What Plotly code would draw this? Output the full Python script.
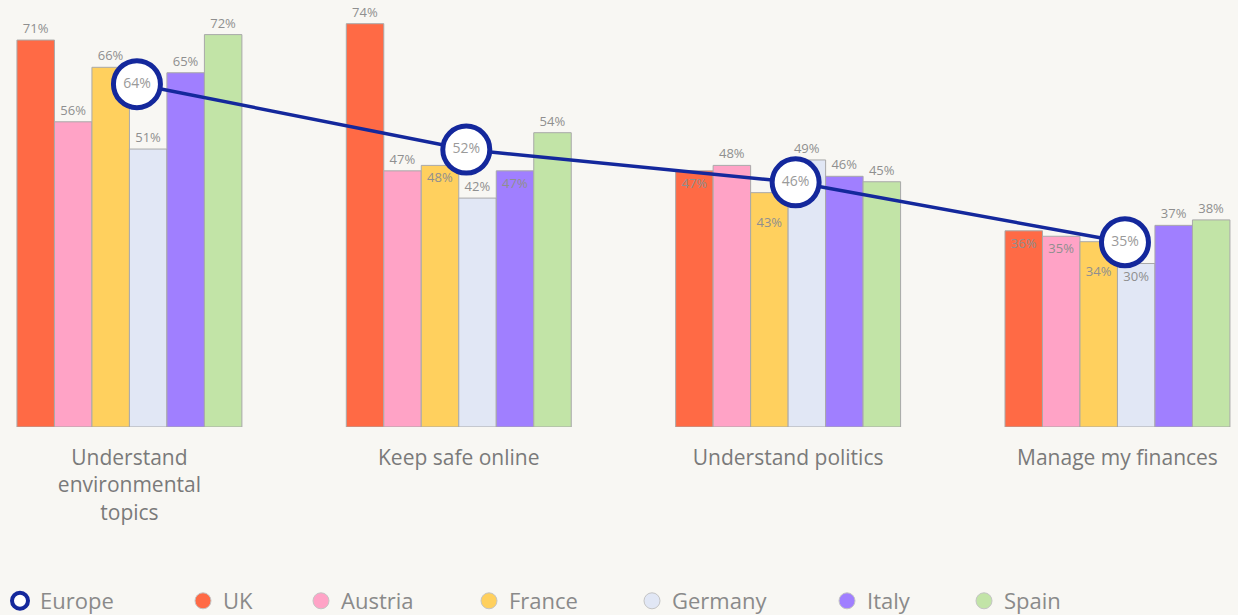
import plotly.graph_objects as go

# ---------------- data ----------------
categories = ["Understand<br>environmental<br>topics", "Keep safe online",
              "Understand politics", "Manage my finances"]
countries = ["UK", "Austria", "France", "Germany", "Italy", "Spain"]
uk = [71, 74, 47, 36]
austria = [56, 47, 48, 35]
france = [66, 48, 43, 34]
germany = [51, 42, 49, 30]
italy = [65, 47, 46, 37]
spain = [72, 54, 45, 38]
europe = [64, 52, 46, 35]

# ---------------- styles ----------------
colors = ["#FF6A45", "#FFA3C6", "#FFD05E", "#E1E7F5", "#A07FFF", "#C2E4A7"]
label_pos = [
    ["outside", "outside", "inside", "inside"],
    ["outside", "outside", "outside", "inside"],
    ["outside", "inside", "inside", "inside"],
    ["outside", "outside", "outside", "inside"],
    ["outside", "inside", "outside", "outside"],
    ["outside", "outside", "outside", "outside"],
]
# labels pushed one line lower inside the bar
label_drop = [
    [False, False, False, False],
    [False, False, False, False],
    [False, False, True, True],
    [False, False, False, False],
    [False, False, False, False],
    [False, False, False, False],
]
legend_marker_px = [21, 204, 322, 490, 653, 848, 985]
navy = "#14289C"
bg = "#F8F7F3"
W, H = 1238, 615
FONT = "Open Sans"

series = [uk, austria, france, germany, italy, spain]

fig = go.Figure()

for name, vals, col, pos, drop in zip(countries, series, colors, label_pos, label_drop):
    fig.add_trace(go.Bar(
        x=categories, y=vals, name=name,
        marker=dict(color=col, line=dict(color="#a9a9a9", width=1)),
        text=[("\u00a0<br>" if d else "") + f"{v}%" for v, d in zip(vals, drop)],
        textposition=pos,
        insidetextanchor="end", textangle=0,
        textfont=dict(size=13, color="#8f8f8f", family=FONT),
        cliponaxis=False, showlegend=False, hoverinfo="skip",
    ))

fig.add_trace(go.Scatter(
    x=categories, y=europe, name="Europe", xaxis="x2", yaxis="y2",
    mode="lines+markers+text",
    line=dict(color=navy, width=3.5),
    marker=dict(size=47, color="white", line=dict(color=navy, width=5)),
    text=[f"{v}%" for v in europe], textposition="middle center",
    textfont=dict(size=14, color="#9a9a9a", family=FONT),
    cliponaxis=False, showlegend=False, hoverinfo="skip",
))

# legend entries (circles)
legend_names = ["Europe"] + countries
legend_colors = ["white"] + colors
for i, (nm, col) in enumerate(zip(legend_names, legend_colors)):
    lg = "legend" if i == 0 else f"legend{i+1}"
    if i == 0:
        mk = dict(size=16, color="white", line=dict(color=navy, width=4))
    else:
        mk = dict(size=16, color=col, line=dict(color="#c4c4c4", width=1))
    fig.add_trace(go.Scatter(x=[None], y=[None], mode="markers", name=nm,
                             marker=mk, legend=lg, hoverinfo="skip"))

plot_h = 427
ymax = plot_h / 5.45
r0, r1 = -0.393, 3.366
dx = 0.0228
dy = 1.1

layout_legends = {}
for i, px in enumerate(legend_marker_px):
    key = "legend" if i == 0 else f"legend{i+1}"
    layout_legends[key] = dict(
        x=(px - 21) / W, y=-(601 - plot_h) / plot_h,
        xanchor="left", yanchor="middle", orientation="h",
        font=dict(size=22, color="#8a8a8a", family=FONT),
        bgcolor="rgba(0,0,0,0)", borderwidth=0,
    )

fig.update_layout(
    width=W, height=H,
    margin=dict(l=0, r=0, t=0, b=H - plot_h, pad=0, autoexpand=False),
    paper_bgcolor=bg, plot_bgcolor=bg,
    barmode="group", bargap=0.317, bargroupgap=0,
    font=dict(family=FONT),
    xaxis=dict(type="category", categoryorder="array", categoryarray=categories,
               range=[r0, r1], showgrid=False, zeroline=False, showline=False,
               ticks="", tickfont=dict(size=21, color="#7a7a7a", family=FONT),
               ticklabelstandoff=16, fixedrange=True, automargin=False),
    xaxis2=dict(type="category", categoryorder="array", categoryarray=categories,
                overlaying="x", range=[r0 - dx, r1 - dx], visible=False,
                fixedrange=True),
    yaxis=dict(range=[0, ymax], visible=False, showgrid=False, fixedrange=True),
    yaxis2=dict(range=[dy, ymax + dy], overlaying="y", visible=False,
                fixedrange=True),
    showlegend=True,
    **layout_legends,
)

fig.write_html("out.html", config={"displayModeBar": False},
               post_script="document.body.style.margin='0';document.body.style.overflow='hidden';")
